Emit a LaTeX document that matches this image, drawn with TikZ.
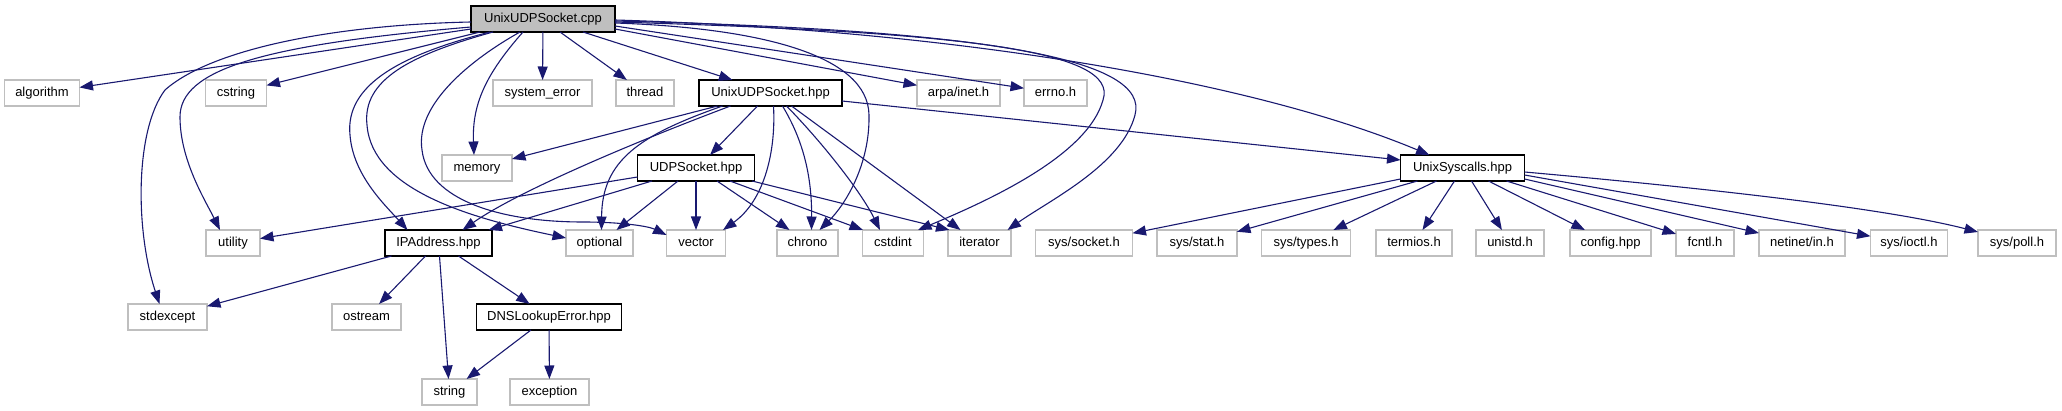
\documentclass[tikz,border=0pt]{standalone}
\usepackage{fontspec}
\setmainfont{Liberation Sans}
\usepackage{tikz}
\usetikzlibrary{arrows.meta}
\definecolor{dxblue}{RGB}{25,25,112}
\definecolor{dxgray}{RGB}{191,191,191}

\begin{document}
\begin{tikzpicture}[x=1pt, y=-1pt,
    box/.style={line width=1.2pt, minimum height=26pt, inner sep=0pt, outer sep=0pt,
        text height=9.5pt, text depth=2.7pt, font=\fontsize{13}{15}\selectfont},
    rootnode/.style={box, draw=black, fill=dxgray},
    filenode/.style={box, draw=black, fill=white},
    extnode/.style={box, draw=dxgray, fill=white},
    dep/.style={dxblue, line width=1.1pt, -{Triangle[length=13.5pt, width=10pt]}}]
% Include graph of UnixUDPSocket.cpp (pixel grid, y downwards)
\useasboundingbox (0,0) rectangle (2062,411);

% Rank 0
\node[rootnode, minimum width=144pt] (cpp) at (543,19) {UnixUDPSocket.cpp};

% Rank 1
\node[extnode, minimum width=75pt] (algorithm) at (42,93) {algorithm};
\node[extnode, minimum width=61pt] (cstring) at (236,93) {cstring};
\node[extnode, minimum width=99pt] (syserror) at (542.5,93) {system\_error};
\node[extnode, minimum width=58pt] (thread) at (645,93) {thread};
\node[filenode, minimum width=143pt] (unixudp) at (770.5,93) {UnixUDPSocket.hpp};
\node[extnode, minimum width=83pt] (arpainet) at (958.5,93) {arpa/inet.h};
\node[extnode, minimum width=63pt] (errnoh) at (1055.5,93) {errno.h};

% Rank 2
\node[extnode, minimum width=70pt] (memory) at (477,168) {memory};
\node[filenode, minimum width=117pt] (udpsock) at (696,168) {UDPSocket.hpp};
\node[filenode, minimum width=124pt] (syscalls) at (1462.5,168) {UnixSyscalls.hpp};

% Rank 3
\node[extnode, minimum width=54pt] (utility) at (233,243) {utility};
\node[filenode, minimum width=107pt] (ipaddr) at (438.5,243) {IPAddress.hpp};
\node[extnode, minimum width=67pt] (optional) at (599.5,243) {optional};
\node[extnode, minimum width=59pt] (vector) at (696,243) {vector};
\node[extnode, minimum width=61pt] (chrono) at (807.5,243) {chrono};
\node[extnode, minimum width=61pt] (cstdint) at (893,243) {cstdint};
\node[extnode, minimum width=63pt] (iterator) at (979.5,243) {iterator};
\foreach \nm/\x/\w/\lab in {syssocket/1084/97/{sys/socket.h}, sysstat/1197/80/{sys/stat.h},
    systypes/1306/89/{sys/types.h}, termios/1414/76/{termios.h}, unistd/1510/68/{unistd.h},
    config/1610.5/81/{config.hpp}, fcntl/1705/58/{fcntl.h}, netinet/1802/86/{netinet/in.h},
    sysioctl/1909/77/{sys/ioctl.h}, syspoll/2017/78/{sys/poll.h}} {
    \node[extnode, minimum width=\w pt] (\nm) at (\x,243) {\lab};
}

% Rank 4 and 5
\node[extnode, minimum width=79pt] (stdexcept) at (167.5,317) {stdexcept};
\node[extnode, minimum width=69pt] (ostream) at (366.5,317) {ostream};
\node[filenode, minimum width=145pt] (dnserr) at (549,317) {DNSLookupError.hpp};
\node[extnode, minimum width=55pt] (string) at (449.5,392) {string};
\node[extnode, minimum width=79pt] (exception) at (549.5,392) {exception};

% UnixUDPSocket.cpp
\draw[dep] ([yshift=-10pt]cpp.west) -- (algorithm);
\draw[dep] ([yshift=-8pt]cpp.west) .. controls (260,45) and (180,70) .. (180,117)
    .. controls (180,160) and (205,200) .. ([xshift=-13pt]utility.north);
\draw[dep] ([yshift=-3pt]cpp.west) .. controls (330,25) and (210,50) .. (165,90)
    .. controls (135,130) and (135,230) .. ([xshift=-8pt]stdexcept.north);
\draw[dep] ([xshift=9pt]cpp.south west) -- (cstring);
\draw[dep] ([xshift=19pt]cpp.south west) .. controls (400,55) and (345,85) .. (350,135)
    .. controls (353,175) and (385,205) .. ([xshift=-31pt]ipaddr.north);
\draw[dep] ([xshift=22pt]cpp.south west) .. controls (410,55) and (362,80) .. (367,125)
    .. controls (372,190) and (470,218) .. ([yshift=5pt]optional.west);
\draw[dep] ([xshift=-23pt]cpp.south) .. controls (470,60) and (415,105) .. (422,150)
    .. controls (428,200) and (500,222) .. (583,222)
    .. controls (620,222) and (648,226) .. ([yshift=8pt]vector.west);
\draw[dep] ([xshift=-20pt]cpp.south) .. controls (485,75) and (472,105) .. ([xshift=-3pt]memory.north);
\draw[dep] (cpp) -- (syserror);
\draw[dep] ([xshift=17pt]cpp.south) -- (thread);
\draw[dep] ([xshift=40pt]cpp.south) -- ([xshift=-38pt]unixudp.north);
\draw[dep] ([yshift=-10pt]cpp.east) -- (arpainet);
\draw[dep] ([yshift=-7pt]cpp.east) -- (errnoh);
\draw[dep] ([yshift=-4pt]cpp.east) .. controls (760,28) and (868,55) .. (869,115)
    .. controls (870,165) and (845,205) .. ([xshift=12pt]chrono.north);
\draw[dep] ([yshift=-3pt]cpp.east) .. controls (960,32) and (1120,50) .. (1103,100)
    .. controls (1088,155) and (990,200) .. ([xshift=25pt]cstdint.north);
\draw[dep] ([yshift=-2pt]cpp.east) .. controls (995,30) and (1150,60) .. (1135,115)
    .. controls (1122,165) and (1050,200) .. ([xshift=28pt]iterator.north);
\draw[dep] ([yshift=-1pt]cpp.east) .. controls (950,30) and (1250,80) .. ([xshift=-33pt]syscalls.north);

% UnixUDPSocket.hpp
\draw[dep] ([xshift=-53pt]unixudp.south) -- (memory);
\draw[dep] ([xshift=-40pt]unixudp.south) .. controls (640,140) and (520,190) .. ([xshift=24pt]ipaddr.north);
\draw[dep] ([xshift=-48pt]unixudp.south) .. controls (640,135) and (602,160) .. ([xshift=2pt]optional.north);
\draw[dep] ([xshift=-13pt]unixudp.south) -- ([xshift=14pt]udpsock.north);
\draw[dep] ([xshift=3pt]unixudp.south) .. controls (776,150) and (765,200) .. ([xshift=27pt]vector.north);
\draw[dep] ([xshift=12pt]unixudp.south) .. controls (800,135) and (812,170) .. ([xshift=4pt]chrono.north);
\draw[dep] ([xshift=16pt]unixudp.south) .. controls (820,140) and (860,190) .. ([xshift=-13pt]cstdint.north);
\draw[dep] ([xshift=21pt]unixudp.south) -- ([xshift=-19pt]iterator.north);
\draw[dep] ([yshift=-8pt]unixudp.east) -- ([yshift=8pt]syscalls.west);

% UDPSocket.hpp
\draw[dep] ([yshift=-9pt]udpsock.west) -- (utility);
\draw[dep] ([xshift=-44pt]udpsock.south) -- ([xshift=50pt]ipaddr.north);
\draw[dep] ([xshift=-18pt]udpsock.south) -- ([xshift=17pt]optional.north);
\draw[dep] (udpsock) -- (vector);
\draw[dep] ([xshift=21pt]udpsock.south) -- ([xshift=-18pt]chrono.north);
\draw[dep] ([xshift=34pt]udpsock.south) -- ([xshift=-30pt]cstdint.north);
\draw[dep] ([xshift=56pt]udpsock.south) -- ([xshift=-30pt]iterator.north);

% UnixSyscalls.hpp
\draw[dep] ([yshift=-11pt]syscalls.west) -- (syssocket);
\draw[dep] ([xshift=-45pt]syscalls.south) -- (sysstat);
\draw[dep] ([xshift=-26pt]syscalls.south) -- (systypes);
\draw[dep] ([xshift=-8pt]syscalls.south) -- (termios);
\draw[dep] ([xshift=9pt]syscalls.south) -- (unistd);
\draw[dep] ([xshift=26pt]syscalls.south) -- (config);
\draw[dep] ([xshift=44pt]syscalls.south) -- (fcntl);
\draw[dep] ([yshift=-11pt]syscalls.east) -- (netinet);
\draw[dep] ([yshift=-7pt]syscalls.east) -- (sysioctl);
\draw[dep] ([yshift=-4pt]syscalls.east) .. controls (1760,193) and (1900,212) .. ([yshift=-2pt]syspoll.north west);

% IPAddress.hpp and DNSLookupError.hpp
\draw[dep] ([xshift=-47pt]ipaddr.south) -- (stdexcept);
\draw[dep] ([xshift=-13pt]ipaddr.south) -- (ostream);
\draw[dep] ([xshift=1pt]ipaddr.south) -- (string);
\draw[dep] ([xshift=20pt]ipaddr.south) -- (dnserr);
\draw[dep] ([xshift=-18pt]dnserr.south) -- (string);
\draw[dep] (dnserr) -- (exception);

\end{tikzpicture}
\end{document}
